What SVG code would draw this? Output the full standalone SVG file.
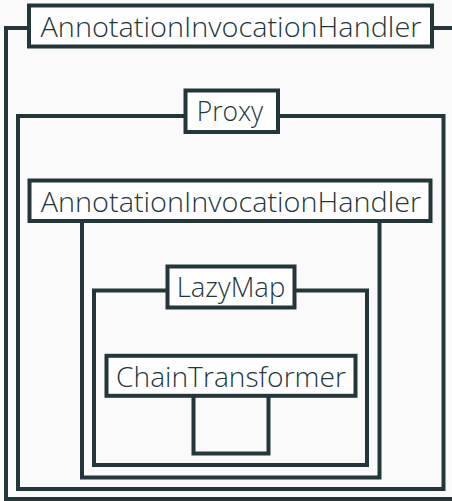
<svg xmlns="http://www.w3.org/2000/svg" width="452" height="501" viewBox="0 0 452 501">
  <style>
    .frame { fill: none; stroke: #23373B; stroke-width: 4; }
    .box { fill: #FFFFFF; stroke: #23373B; stroke-width: 4; }
    .label { font-family: "Open Sans", "Noto Sans", sans-serif; font-weight: 300; font-size: 28px; fill: #23373B; text-anchor: middle; }
  </style>
  <rect x="0" y="0" width="452" height="501" fill="#FAFAFA"/>
  <g id="connectors">
    <rect class="frame" x="6" y="28" width="456" height="471"/>
    <rect class="frame" x="18" y="116" width="425.5" height="373"/>
    <rect class="frame" x="82" y="201" width="297.5" height="276.5"/>
    <rect class="frame" x="94" y="290.5" width="273" height="174.5"/>
    <rect class="frame" x="193.5" y="376" width="75" height="77.5"/>
  </g>
  <g id="node-outer-handler">
    <rect class="box" x="29" y="5.5" width="403" height="41"/>
    <text class="label" x="231" y="36.5" textLength="381" lengthAdjust="spacingAndGlyphs">AnnotationInvocationHandler</text>
  </g>
  <g id="node-proxy">
    <rect class="box" x="185.5" y="90.5" width="92.5" height="41.5"/>
    <text class="label" x="230" y="120.5" textLength="66.5" lengthAdjust="spacingAndGlyphs">Proxy</text>
  </g>
  <g id="node-inner-handler">
    <rect class="box" x="29.5" y="180.5" width="401" height="40.5"/>
    <text class="label" x="231" y="211.5" textLength="380.5" lengthAdjust="spacingAndGlyphs">AnnotationInvocationHandler</text>
  </g>
  <g id="node-lazymap">
    <rect class="box" x="167.5" y="266.5" width="127" height="41"/>
    <text class="label" x="231" y="297" textLength="108.5" lengthAdjust="spacingAndGlyphs">LazyMap</text>
  </g>
  <g id="node-chaintransformer">
    <rect class="box" x="106.5" y="355.8" width="249" height="40"/>
    <text class="label" x="231" y="386.5" textLength="230" lengthAdjust="spacingAndGlyphs">ChainTransformer</text>
  </g>
</svg>
